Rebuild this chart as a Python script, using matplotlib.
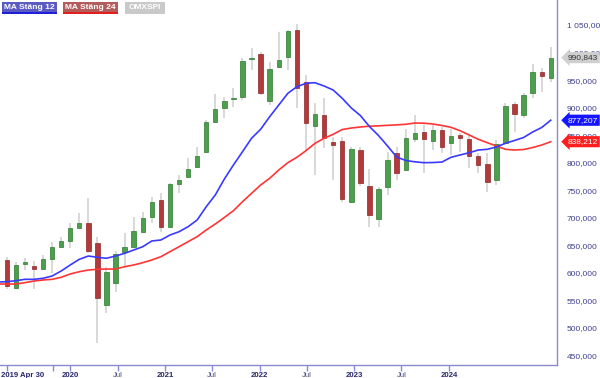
#!/usr/bin/env python3
"""OMXSPI 5-week candles with MA 12 / MA 24 (closing price)."""
import matplotlib

matplotlib.use("Agg")
import matplotlib.pyplot as plt
import matplotlib.transforms as mtrans
from matplotlib.patches import Rectangle
import numpy as np
import pandas as pd

plt.rcParams["font.family"] = ["Liberation Sans", "DejaVu Sans"]

# --- data ----------------------------------------------------------------
START = "2019-04-30"
STEP = "35D"

opens = [623500, 573200, 615700, 613100, 607100, 624700, 647600, 657400, 682100, 691200,
         654900, 541800, 582300, 638500, 647600, 673800, 702100, 732400, 683900, 761400,
         773600, 791700, 819000, 873400, 899900, 916200, 919900, 988300, 997900, 912600,
         974300, 991400, 1040900, 946000, 866700, 886700, 838000, 839500, 728200, 823100,
         757800, 698400, 755400, 817100, 786800, 843600, 855200, 840000, 859400, 835300,
         850400, 843100, 812200, 797700, 768700, 836400, 906100, 886700, 927100, 965200,
         953300]
highs = [628900, 620400, 627100, 622200, 632600, 656700, 665800, 691200, 709300, 735500,
         665800, 611300, 640700, 671900, 702100, 711100, 738400, 745600, 762700, 777800,
         808100, 829100, 877600, 924800, 920200, 935100, 989600, 1007700, 1001500, 983400,
         1037800, 1040900, 1051800, 959300, 907900, 917000, 847300, 846200, 829100, 829100,
         788100, 755400, 820000, 829100, 860700, 886700, 868500, 868500, 865400, 860700,
         854500, 850400, 817100, 817100, 841300, 907900, 910800, 926000, 979200, 971400,
         1009500]
lows = [570800, 570800, 605300, 570800, 605300, 599900, 646500, 645300, 681000, 635600,
        472300, 527800, 565900, 608400, 644700, 671900, 690100, 674800, 682800, 744500,
        771800, 789900, 817100, 871600, 880700, 901700, 913900, 968300, 923000, 904800,
        971400, 968300, 898800, 823100, 777800, 826200, 768700, 729300, 726400, 757800,
        683900, 682800, 741500, 768700, 785500, 838200, 780800, 823100, 817100, 814100,
        820000, 789900, 780800, 747400, 759600, 835300, 856300, 880700, 917000, 928900,
        947100]
closes = [576300, 614400, 619300, 607100, 624700, 647600, 658500, 682100, 690100, 639800,
          555000, 602200, 633800, 647600, 675600, 699200, 729300, 683900, 761400, 768700,
          788600, 812200, 874500, 897500, 912600, 918000, 985200, 990600, 927100, 970100,
          986500, 1039100, 935100, 871600, 888500, 844400, 832200, 733600, 824400, 762700,
          705200, 751800, 805000, 781900, 844400, 854500, 842600, 859400, 829100, 848500,
          844400, 812200, 795400, 765600, 834000, 903000, 888500, 922400, 964200, 958000,
          990843]

# moving averages start one period before the first visible candle
ma12 = [583500, 584100, 585900, 588400, 588400, 590300, 594400, 603500, 614400, 624700,
        630700, 628400, 626600, 630700, 635600, 641600, 647600, 658000, 659800, 668800,
        674800, 683900, 696100, 720200, 741500, 770500, 795900, 820000, 844400, 860700,
        883600, 904800, 926000, 938000, 944200, 945300, 939300, 932000, 917000, 899400,
        885700, 865800, 849400, 830400, 810400, 804100, 801700, 800100, 800400, 801300,
        809900, 814100, 818200, 823100, 824400, 828600, 835300, 840400, 845800, 855800,
        864000, 877207]
ma24 = [579900, 579900, 579900, 582300, 585300, 587200, 588400, 592100, 598100, 602200,
        605300, 606600, 607100, 607100, 611300, 614400, 618600, 623500, 629500, 638500,
        647600, 656700, 665800, 677900, 688800, 700600, 713000, 729300, 744500, 759600,
        771800, 786800, 800100, 809900, 821900, 835300, 844400, 851600, 860300, 863000,
        864900, 866300, 867000, 867900, 868800, 869800, 872100, 871800, 870300, 867600,
        864300, 858100, 850400, 842600, 836400, 830400, 824400, 823100, 824000, 827600,
        832200, 838212]

x_ticks = ["2019-04-30", "2020-01-01", "2020-07-01", "2021-01-01", "2021-07-01",
           "2022-01-01", "2022-07-01", "2023-01-01", "2023-07-01", "2024-01-01"]
x_labels = ["2019 Apr 30", "2020", "Jul", "2021", "Jul", "2022", "Jul", "2023", "Jul", "2024"]
y_ticks = list(range(450000, 1050001, 50000))

# --- colours ---------------------------------------------------------------
GREEN, GREEN_EDGE = "#4c9f4c", "#2f7a30"
RED, RED_EDGE = "#b23a3a", "#8e2626"
WICK = "#d6d6d6"
BLUE_MA, RED_MA = "#3a3aff", "#ff3535"
AXIS = "#8a8ad0"
NAVY = "#26266e"
TICKTXT = "#404090"

W, H = 600, 378


def fx(px):
    return px / W


def fy(py):
    return 1 - py / H


def main():
    o, h, l, c = (np.array(a, dtype=float) for a in (opens, highs, lows, closes))
    dates = pd.date_range(START, periods=len(o), freq=STEP)
    ma_dates = pd.date_range(pd.Timestamp(START) - pd.Timedelta(STEP), periods=len(ma12), freq=STEP)

    fig = plt.figure(figsize=(W / 100, H / 100), dpi=100, facecolor="white")
    ax = fig.add_axes([0, 1 - 365 / H, fx(557), 365 / H])

    up = c >= o
    lo = np.minimum(o, c)
    ht = np.maximum(np.abs(c - o), 1800)
    ax.vlines(dates, l, h, color=WICK, lw=1.3, zorder=1)
    ax.bar(dates[up], ht[up], bottom=lo[up], width=17, color=GREEN,
           edgecolor=GREEN_EDGE, lw=0.5, zorder=3)
    ax.bar(dates[~up], ht[~up], bottom=lo[~up], width=17, color=RED,
           edgecolor=RED_EDGE, lw=0.5, zorder=3)

    ax.plot(ma_dates, ma24, color=RED_MA, lw=1.2, zorder=4)
    ax.plot(ma_dates, ma12, color=BLUE_MA, lw=1.2, zorder=5)

    ax.set_xlim(pd.Timestamp("2019-04-04"), pd.Timestamp("2025-02-21"))
    ax.set_ylim(432900, 1095400)

    for s in ("top", "left"):
        ax.spines[s].set_visible(False)
    for s in ("bottom", "right"):
        ax.spines[s].set_color(AXIS)
        ax.spines[s].set_linewidth(1.0)

    ax.set_xticks(pd.to_datetime(x_ticks))
    ax.set_xticklabels(x_labels)
    ax.set_xticks([pd.Timestamp("2019-10-26")], minor=True)
    ax.tick_params(axis="x", which="both", direction="out", length=4, width=1,
                   color=AXIS, pad=1, labelsize=5.6, labelcolor=NAVY)
    for lab, txt in zip(ax.get_xticklabels(), x_labels):
        lab.set_fontweight("normal" if txt == "Jul" else "bold")
        if txt == "Jul":
            lab.set_color("#4a4a80")
    first = ax.get_xticklabels()[0]
    first.set_ha("left")
    first.set_transform(first.get_transform() +
                        mtrans.ScaledTranslation(-6 / 100, 0, fig.dpi_scale_trans))

    ax.yaxis.tick_right()
    ax.set_yticks(y_ticks)
    ax.set_yticklabels([f"{v:,}".replace(",", " ", 1) if v >= 1000000 else f"{v:,}"
                        for v in y_ticks])
    ax.tick_params(axis="y", length=0, pad=7, labelsize=6, labelcolor=TICKTXT)

    # last-value tags on the price scale
    tags = [(closes[-1], "#cfcfcf", "#333333"),
            (ma12[-1], "#1414ff", "white"),
            (ma24[-1], "#ff1e1e", "white")]
    for val, fc, tc in tags:
        ax.annotate(f"{val:,}", xy=(1.0, val), xycoords=ax.get_yaxis_transform(),
                    xytext=(7.5, 0), textcoords="offset points", ha="left", va="center",
                    fontsize=6, color=tc, annotation_clip=False, zorder=10,
                    bbox=dict(boxstyle="larrow,pad=0.25", fc=fc, ec="none"))

    # legend chips
    chips = [("MA Stäng 12", 2, 57, "#5a5ac2", "#1f1fd8"),
             ("MA Stäng 24", 63, 118, "#b35c5c", "#e02020"),
             ("OMXSPI", 125, 165, "#c9c9c9", None)]
    for txt, x0, x1, bg, line in chips:
        fig.patches.append(Rectangle((fx(x0), fy(14)), fx(x1 - x0), 12 / H,
                                     transform=fig.transFigure, fc=bg, ec="none"))
        if line:
            fig.patches.append(Rectangle((fx(x0), fy(14)), fx(x1 - x0), 1.6 / H,
                                         transform=fig.transFigure, fc=line, ec="none"))
        fig.text(fx((x0 + x1) / 2), fy(7.5), txt, ha="center", va="center",
                 fontsize=6, color="white", fontweight="bold")

    fig.savefig("out.png", dpi=100, facecolor="white")
    plt.close(fig)


if __name__ == "__main__":
    main()
